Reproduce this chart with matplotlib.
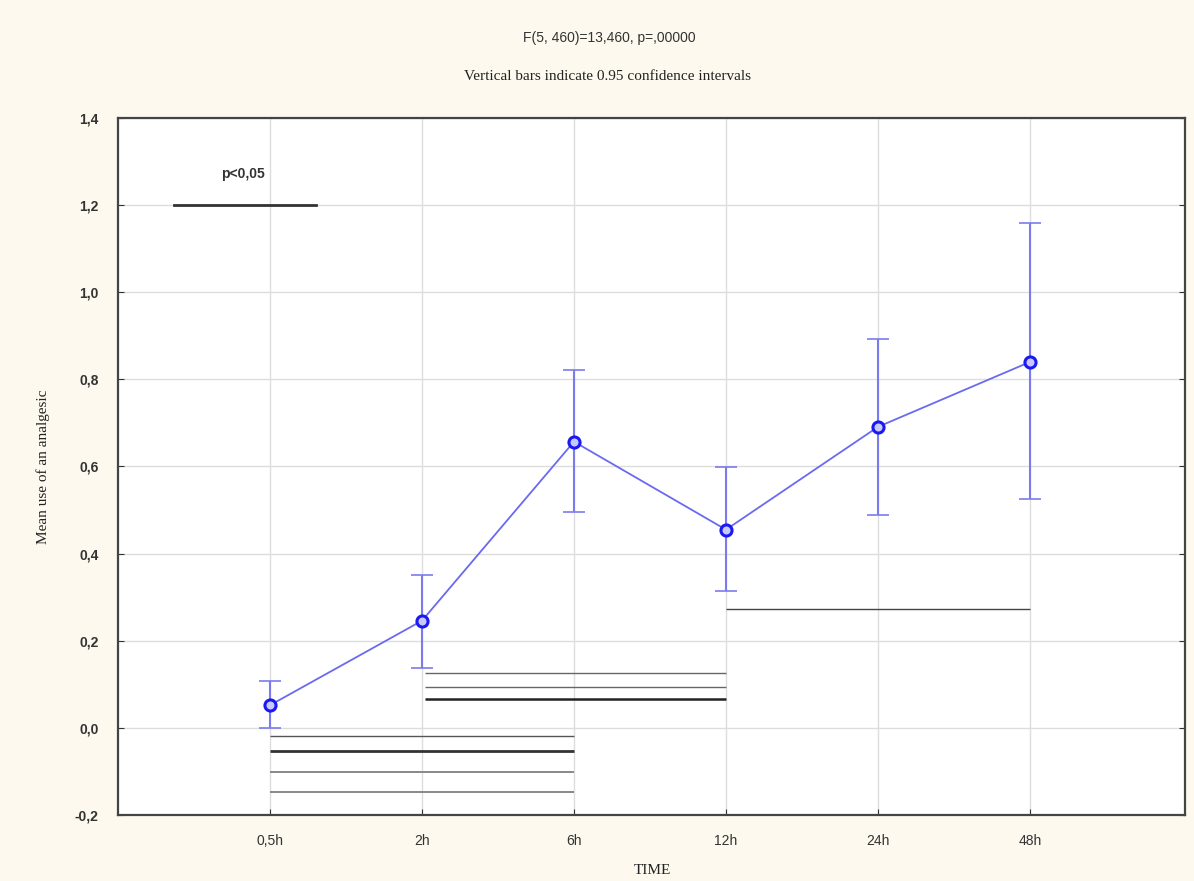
import matplotlib
matplotlib.use("Agg")
import matplotlib.pyplot as plt

# Data
categories = ["0,5h", "2h", "6h", "12h", "24h", "48h"]
means = [0.052, 0.246, 0.657, 0.455, 0.691, 0.840]
ci_low = [0.000, 0.138, 0.496, 0.315, 0.489, 0.526]
ci_high = [0.108, 0.351, 0.822, 0.599, 0.893, 1.159]

# significance bars: (start index, end index, y level, color, width)
sig_start = [0, 0, 0, 0, 1.02, 1.02, 1.02, 3]
sig_end = [2, 2, 2, 2, 3, 3, 3, 5]
sig_y = [-0.018, -0.053, -0.101, -0.147, 0.126, 0.094, 0.067, 0.273]
sig_color = ["#555555", "#333333", "#888888", "#888888", "#666666", "#666666", "#222222", "#444444"]
sig_lw = [1.0, 2.0, 1.4, 1.4, 1.0, 1.0, 1.8, 1.0]

yticks = [-0.2, 0.0, 0.2, 0.4, 0.6, 0.8, 1.0, 1.2, 1.4]
ytick_labels = ["-0,2", "0,0", "0,2", "0,4", "0,6", "0,8", "1,0", "1,2", "1,4"]

fig = plt.figure(figsize=(11.94, 8.81), dpi=100)
fig.patch.set_facecolor("#fdf9ee")
ax = fig.add_axes([0.0988, 0.0749, 0.8937, 0.7912])
ax.set_facecolor("white")

x = list(range(len(categories)))
yerr_low = [m - l for m, l in zip(means, ci_low)]
yerr_high = [h - m for m, h in zip(means, ci_high)]
ax.errorbar(x, means, yerr=[yerr_low, yerr_high], fmt="none", ecolor="#7b7bee",
            elinewidth=1.5, capsize=8, capthick=1.2, zorder=3)
ax.plot(x, means, color="#6a6af0", lw=1.3, zorder=4)
ax.plot(x, means, "o", ms=8, mfc="#c8c8ff", mec="#1a1aee", mew=2.2, zorder=5)

for s, e, yv, c, lw in zip(sig_start, sig_end, sig_y, sig_color, sig_lw):
    ax.plot([s, e], [yv, yv], color=c, lw=lw, zorder=2, solid_capstyle="butt")

# legend line
ax.plot([-0.63, 0.30], [1.2, 1.2], color="#333333", lw=2.0, zorder=2)
ax.text(-0.18, 1.255, "p<0,05", ha="center", va="bottom", fontsize=10,
        family="Liberation Sans", fontweight="bold", color="#333333")

ax.set_xlim(-1, 6.02)
ax.set_ylim(-0.2, 1.4)
ax.set_xticks(x)
ax.set_xticklabels(categories, family="Liberation Sans", fontsize=10, color="#333333")
ax.set_yticks(yticks)
ax.set_yticklabels(ytick_labels, family="Liberation Sans", fontsize=10,
                   fontweight="bold", color="#333333")
ax.tick_params(axis="both", direction="in", length=4, color="#333333", right=True)
ax.tick_params(axis="x", pad=14)
ax.tick_params(axis="y", pad=14)
ax.grid(True, color="#dddddd", lw=1.0, zorder=0)
ax.set_axisbelow(True)
for sp in ax.spines.values():
    sp.set_color("#444444")
    sp.set_linewidth(1.6)

ax.set_ylabel("Mean use of an analgesic", family="Liberation Serif", fontsize=11,
              color="#222222", labelpad=18)
fig.text(652 / 1194, 1 - 871 / 881, "TIME", ha="center", va="center",
         family="Liberation Serif", fontsize=11, color="#222222")

fig.text(609 / 1194, 1 - 38 / 881, "F(5, 460)=13,460, p=,00000", ha="center", va="center",
         family="Liberation Sans", fontsize=10, color="#333333")
fig.text(607 / 1194, 1 - 76 / 881, "Vertical bars indicate 0.95 confidence intervals", ha="center",
         va="center", family="Liberation Serif", fontsize=11, color="#222222")

fig.savefig("out.png", dpi=100, facecolor=fig.get_facecolor())
